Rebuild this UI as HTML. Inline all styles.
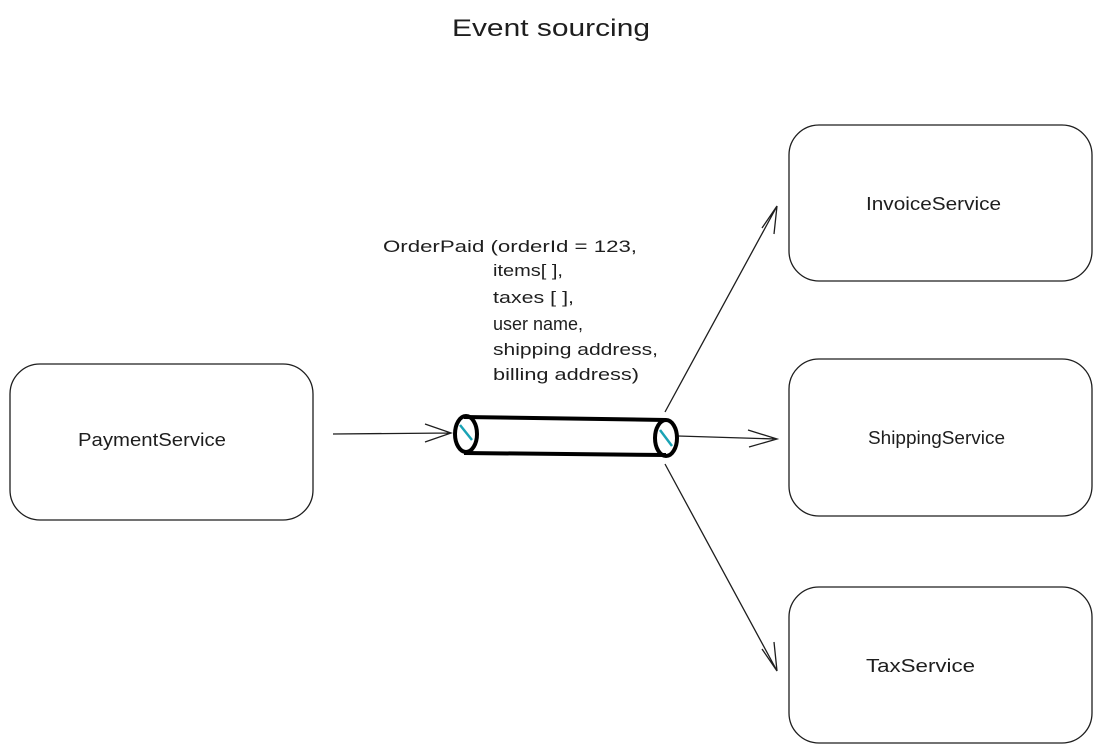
<!DOCTYPE html>
<html><head><style>
html,body{margin:0;padding:0;background:#fff;}
svg{display:block}
text{font-family:"Liberation Sans",sans-serif;fill:#1e1e1e;}
</style></head><body>
<svg width="1103" height="754" viewBox="0 0 1103 754" xmlns="http://www.w3.org/2000/svg">
<text x="452" y="36" font-size="24" textLength="198" lengthAdjust="spacingAndGlyphs">Event sourcing</text>
<g fill="none" stroke="#1e1e1e" stroke-width="1.3">
<rect x="10" y="364" width="303" height="156" rx="30"/>
<rect x="789" y="125" width="303" height="156" rx="30"/>
<rect x="789" y="359" width="303" height="157" rx="30"/>
<rect x="789" y="587" width="303" height="156" rx="30"/>
<path d="M333 434 L450 433 M425 424 L451 433 L425 442"/>
<path d="M678 436 L776 439 M748 430 L777 439 L749 447"/>
<path d="M665 412 L776 208 M762 228 L777 206 L774 234"/>
<path d="M665 464 L776 669 M762 649 L777 671 L774 642"/>
</g>
<g fill="none" stroke="#000" stroke-width="4">
<path d="M464 417 L666 420 M464 453 L666 455"/>
<ellipse cx="466" cy="434" rx="11" ry="18"/>
<ellipse cx="666" cy="438" rx="11" ry="18"/>
</g>
<path d="M460 425 L472 440 M660 430 L672 446" stroke="#1aa3b5" stroke-width="2.5"/>
<text x="78" y="446" font-size="18" textLength="148" lengthAdjust="spacingAndGlyphs">PaymentService</text>
<text x="866" y="210" font-size="18" textLength="135" lengthAdjust="spacingAndGlyphs">InvoiceService</text>
<text x="868" y="444" font-size="18" textLength="137" lengthAdjust="spacingAndGlyphs">ShippingService</text>
<text x="866" y="672" font-size="18" textLength="109" lengthAdjust="spacingAndGlyphs">TaxService</text>
<g font-size="17">
<text x="383" y="252" textLength="254" lengthAdjust="spacingAndGlyphs">OrderPaid (orderId = 123,</text>
<text x="493" y="276" textLength="70" lengthAdjust="spacingAndGlyphs">items[ ],</text>
<text x="493" y="303" textLength="81" lengthAdjust="spacingAndGlyphs">taxes [ ],</text>
<text x="493" y="330" font-size="18">user name,</text>
<text x="493" y="355" textLength="165" lengthAdjust="spacingAndGlyphs">shipping address,</text>
<text x="493" y="380" textLength="146" lengthAdjust="spacingAndGlyphs">billing address)</text>
</g>
</svg>
</body></html>
